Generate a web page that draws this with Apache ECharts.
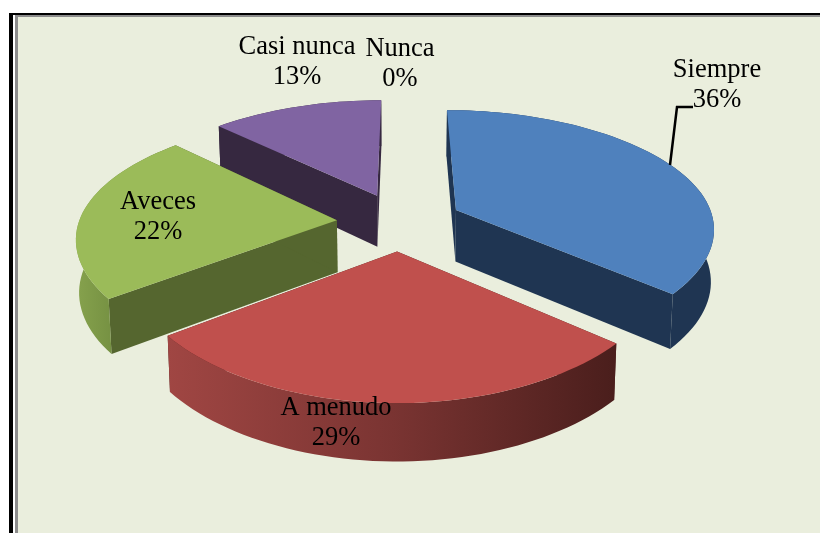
<!DOCTYPE html>
<html><head><meta charset="utf-8">
<style>html,body{margin:0;padding:0;background:#fff}#c{width:820px;height:533px}</style>
<script src="https://cdn.jsdelivr.net/npm/echarts@6/dist/echarts.min.js"></script>
</head><body><div id="c"></div>
<script>
const categories = ['Siempre','A menudo','Aveces','Casi nunca','Nunca'];
const values = [36,29,22,13,0];

// styling and layout, kept apart from the data
const topColors = ['#4F81BD','#C0504D','#9BBB59','#8064A2','#4BACC6'];
const cutColors = ['#1F3552','#4A1E1C','#55662F','#362840','#205867'];
const rimStops = [
  ['#1F3552','#1F3552'],
  ['#A04643','#7A3432','#4A1E1C'],
  ['#86A24D','#6F8A3E','#55662F'],
  ['#362840','#362840'],
  ['#205867','#205867']
];
const labelPos = [[717,70],[336,408],[158,202],[297,47],[400,49]];
const LINE = 30, FONT = '26.5px "Liberation Serif"';
const leader = [[693,107],[677,107],[670,165]];
const sliceNudge = [[3,0],[-1,0],[-4,0],[0,-1],[0,0]];

const geo = {cx:400, cy:222, explode:0.23, depth:52, shrink:0.99};

const total = values.reduce((a,b)=>a+b,0);
const starts = []; { let acc=0; values.forEach(v=>{starts.push(acc); acc+=v;}); }

// tilted view of the pie plane: u to the right, v towards the viewer
function project(u,v,down,nudge){
  let x = u*(258+36*v-6*v*v);
  let y = 123.3*v+19.5*v*v;
  if(down){ x*=geo.shrink; y+=geo.depth*(1+0.1*v); }
  return [geo.cx+x+nudge[0], geo.cy+y+nudge[1]];
}
function sliceShapes(i){
  const a0 = starts[i]/total*2*Math.PI, a1=(starts[i]+values[i])/total*2*Math.PI, mid=(a0+a1)/2;
  const ou = geo.explode*Math.sin(mid), ov = -geo.explode*Math.cos(mid);
  const nudge = sliceNudge[i];
  const rimUV = [];
  const n = Math.max(2,Math.ceil((a1-a0)/(Math.PI/90)));
  for(let j=0;j<=n;j++){ const t=a0+(a1-a0)*j/n; rimUV.push([ou+Math.sin(t), ov-Math.cos(t)]); }
  const top = rimUV.map(q=>project(q[0],q[1],false,nudge));
  const bot = rimUV.map(q=>project(q[0],q[1],true,nudge));
  const apexT = project(ou,ov,false,nudge), apexB = project(ou,ov,true,nudge);
  return {top,bot,apexT,apexB,mv:ov};
}
function poly(points,fill,z2){
  return {type:'polygon',shape:{points},style:{fill},z2,silent:true};
}
function renderSlice(params,api){
  const i = api.value(0);
  if(!values[i]) return {type:'group',children:[]};
  const s = sliceShapes(i);
  const base = Math.round(s.mv*40)+50;
  const stops = rimStops[i].map((c,j,arr)=>({offset:j/(arr.length-1),color:c}));
  const rimFill = {type:'linear',x:0,y:0,x2:1,y2:0,colorStops:stops};
  const last = s.top.length-1;
  return {type:'group',children:[
    poly([s.apexT,s.top[0],s.bot[0],s.apexB],cutColors[i],base),
    poly([s.apexT,s.top[last],s.bot[last],s.apexB],cutColors[i],base+1),
    poly(s.top.concat(s.bot.slice().reverse()),rimFill,base+2),
    poly([s.apexT].concat(s.top),topColors[i],base+3)
  ]};
}
function renderLabel(params,api){
  const i = api.value(0);
  const [x,y] = labelPos[i];
  const txt = (t,yy)=>({type:'text',z2:500,silent:true,style:{text:t,x,y:yy,font:FONT,fill:'#000',align:'center',verticalAlign:'middle'}});
  return {type:'group',children:[txt(categories[i],y),txt(values[i]+'%',y+LINE)]};
}
const idx = categories.map((_,i)=>[i]);
const chart = echarts.init(document.getElementById('c'),null,{renderer:'canvas'});
chart.setOption({
  animation:false,
  backgroundColor:'#fff',
  graphic:[
    {type:'rect',z:0,silent:true,shape:{x:9,y:13,width:811,height:520},style:{fill:'#000'}},
    {type:'rect',z:0,silent:true,shape:{x:13,y:15,width:807,height:518},style:{fill:'#fff'}},
    {type:'rect',z:0,silent:true,shape:{x:15,y:15,width:805,height:518},style:{fill:'#8C8C8C'}},
    {type:'rect',z:0,silent:true,shape:{x:18,y:17,width:802,height:516},style:{fill:'#EAEEDD'}},
    {type:'polyline',z:5,silent:true,shape:{points:leader},style:{stroke:'#000',lineWidth:2.5,fill:null}}
  ],
  series:[
    {type:'custom',coordinateSystem:'none',z:2,data:idx,renderItem:renderSlice,silent:true},
    {type:'custom',coordinateSystem:'none',z:6,data:idx,renderItem:renderLabel,silent:true}
  ]
});
</script></body></html>
